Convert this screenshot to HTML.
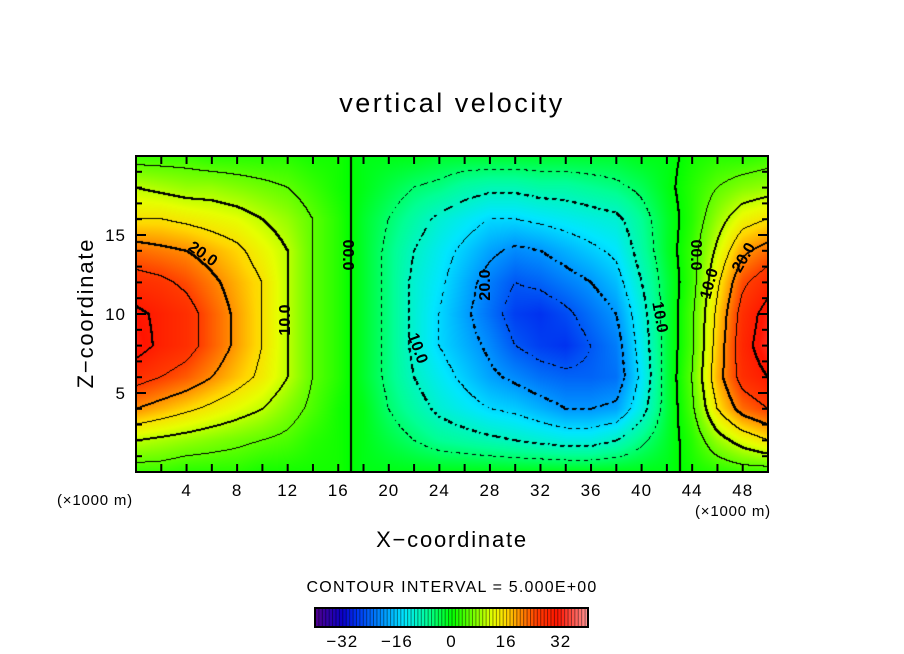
<!DOCTYPE html>
<html><head><meta charset="utf-8">
<style>
html,body{margin:0;padding:0;background:#fff;}
#wrap{position:relative;width:904px;height:654px;overflow:hidden;font-family:"Liberation Sans",sans-serif;}
canvas{position:absolute;}
svg{position:absolute;left:0;top:0;}
</style></head>
<body>
<div id="wrap">
<canvas id="field" width="632" height="316" style="left:136px;top:156px"></canvas>
<svg id="ov" width="904" height="654">
<text x="452" y="112" text-anchor="middle" font-size="27" letter-spacing="2.5" fill="#000">vertical velocity</text>
<text x="452" y="547" text-anchor="middle" font-size="22" letter-spacing="1.8" fill="#000">X−coordinate</text>
<text transform="translate(93,313) rotate(-90)" text-anchor="middle" font-size="22" letter-spacing="1.8" fill="#000">Z−coordinate</text>
<text x="95" y="505" text-anchor="middle" font-size="15" letter-spacing="0.8" fill="#000">(×1000 m)</text>
<text x="733" y="516" text-anchor="middle" font-size="15" letter-spacing="0.8" fill="#000">(×1000 m)</text>
<text x="452" y="592" text-anchor="middle" font-size="16" letter-spacing="1.2" fill="#000">CONTOUR INTERVAL = 5.000E+00</text>
<g id="axes"></g>
<g id="cbar"></g>
<g font-size="16" font-weight="bold" fill="#000">
<text transform="translate(200,258) rotate(35)" text-anchor="middle">20.0</text>
<text transform="translate(290,320) rotate(-90)" text-anchor="middle">10.0</text>
<text transform="translate(343,255) rotate(90)" text-anchor="middle">00.0</text>
<text transform="translate(413,350) rotate(70)" text-anchor="middle">10.0</text>
<text transform="translate(490,285) rotate(-90)" text-anchor="middle">20.0</text>
<text transform="translate(655,318) rotate(80)" text-anchor="middle">10.0</text>
<text transform="translate(691,255) rotate(90)" text-anchor="middle">00.0</text>
<text transform="translate(714,285) rotate(-75)" text-anchor="middle">10.0</text>
<text transform="translate(748,260) rotate(-60)" text-anchor="middle">20.0</text>
</g>
</svg>
</div>
<script>
// data: vertical velocity sampled every 2 km in x (columns) and z (rows z=0..20)
const xCoords = [0,2,4,6,8,10,12,14,16,18,20,22,24,26,28,30,32,34,36,38,40,42,44,46,48,50];
const zCoords = [0,2,4,6,8,10,12,14,16,18,20];
const wColumns = [
 [3,10,20,27,32,31,27,22,15,10,3],
 [3,9,18,25,29,29,26,21,15,9,3],
 [2,8,16,23,27,27,24,20,14,8,3],
 [2,7,14,20,23,23,21,18,13,8,2],
 [2,6,12,17,19,19,18,16,12,7,2],
 [1,5,10,14,15,15,15,13,10,6,2],
 [1,4,7,10,10,10,10,10,8,5,2],
 [1,2,4,5,5,5,5,5,5,3,1],
 [1,1,1,2,2,2,2,2,2,1,1],
 [-1,-1,-1,-2,-2,-2,-2,-2,-2,-1,-1],
 [-1,-3,-5,-6,-6,-6,-6,-6,-5,-3,-1],
 [-1,-5,-8,-10,-11,-11,-11,-10,-8,-5,-1],
 [-1,-7,-11,-13,-15,-15,-14,-13,-11,-6,-2],
 [-1,-8,-13,-16,-18,-19,-18,-16,-13,-8,-2],
 [-1,-9,-15,-19,-21,-23,-22,-19,-15,-9,-2],
 [-1,-10,-16,-21,-25,-27,-25,-21,-15,-9,-2],
 [-1,-11,-18,-23,-27,-28,-24,-20,-14,-8,-2],
 [-1,-12,-20,-24,-28,-26,-22,-18,-13,-8,-2],
 [-1,-12,-20,-24,-25,-23,-20,-16,-12,-7,-2],
 [-1,-10,-19,-23,-22,-20,-17,-14,-11,-6,-2],
 [-1,-6,-12,-14,-13,-12,-10,-8,-7,-4,-1],
 [-1,-2,-3,-3,-3,-3,-3,-2,-2,-1,-1],
 [1,2,4,5,4,4,3,3,2,2,1],
 [2,8,15,18,17,16,14,11,8,5,2],
 [3,12,22,27,28,27,24,19,13,7,2],
 [3,15,25,30,33,32,28,22,15,8,3]
];
const xTickLabels = [4,8,12,16,20,24,28,32,36,40,44,48];
const zTickLabels = [5,10,15];
const cbarTickLabels = [-32,-16,0,16,32];

const X0=136,X1=768,Y0=156,Y1=472, XMAX=50, ZMAX=20;
const sx = x => X0 + (x/XMAX)*(X1-X0);
const sz = z => Y1 - (z/ZMAX)*(Y1-Y0);

const stops=[[-40,[80,0,140]],[-32,[10,0,200]],[-28,[0,50,240]],[-20,[0,150,255]],[-14,[0,230,255]],[-7,[0,255,150]],[0,[0,255,0]],[7,[130,255,0]],[12,[230,255,0]],[16,[255,215,0]],[20,[255,140,0]],[25,[255,60,0]],[31,[255,20,0]],[40,[255,150,150]]];
function cmap(v){
  if(v<=stops[0][0]) return stops[0][1];
  for(let i=1;i<stops.length;i++){
    if(v<=stops[i][0]){const a=stops[i-1],b=stops[i],t=(v-a[0])/(b[0]-a[0]);
      return [0,1,2].map(k=>Math.round(a[1][k]+(b[1][k]-a[1][k])*t));}
  }
  return stops[stops.length-1][1];
}
function sample(x,z){
  const dx=xCoords[1]-xCoords[0], dz=zCoords[1]-zCoords[0];
  let gi=Math.min(Math.max(x/dx,0),xCoords.length-1.0001), gj=Math.min(Math.max(z/dz,0),zCoords.length-1.0001);
  const i=Math.floor(gi), j=Math.floor(gj), fi=gi-i, fj=gj-j;
  const a=wColumns[i][j], b=wColumns[i+1][j], c=wColumns[i][j+1], d=wColumns[i+1][j+1];
  return a*(1-fi)*(1-fj)+b*fi*(1-fj)+c*(1-fi)*fj+d*fi*fj;
}
const cv=document.getElementById('field'), ctx=cv.getContext('2d');
const W=cv.width,H=cv.height, img=ctx.createImageData(W,H);
const vals=new Float32Array(W*H);
for(let py=0;py<H;py++)for(let px=0;px<W;px++){
  vals[py*W+px]=sample((px+0.5)/W*XMAX,(H-py-0.5)/H*ZMAX);
}
const mark=new Uint8Array(W*H);
function setM(px,py){if(px>=0&&py>=0&&px<W&&py<H)mark[py*W+px]=1;}
for(let py=0;py<H;py++)for(let px=0;px<W;px++){
  const k=Math.floor(vals[py*W+px]/5);
  const nb=[[1,0],[0,1]];
  for(const [ox,oy] of nb){
    const qx=px+ox,qy=py+oy; if(qx>=W||qy>=H) continue;
    const k2=Math.floor(vals[qy*W+qx]/5);
    if(k2!==k){
      const L=5*Math.max(k,k2);
      if(L<0 && (((px>>2)^(py>>2))&1)) continue;
      setM(px,py);
      if(L%10===0){setM(px+1,py);setM(px,py+1);}
    }
  }
}
for(let p=0;p<W*H;p++){
  const c=mark[p]?[0,0,0]:cmap(vals[p]);
  img.data[p*4]=c[0];img.data[p*4+1]=c[1];img.data[p*4+2]=c[2];img.data[p*4+3]=255;
}
ctx.putImageData(img,0,0);

const NS='http://www.w3.org/2000/svg';
const axes=document.getElementById('axes');
function mk(tag,attrs,parent){const e=document.createElementNS(NS,tag);for(const k in attrs)e.setAttribute(k,attrs[k]);parent.appendChild(e);return e;}
const frame=mk('rect',{x:X0,y:Y0,width:X1-X0,height:Y1-Y0,fill:'none',stroke:'#000','stroke-width':2},axes);


for(let x=2;x<XMAX;x+=2){
  const t1=mk('line',{x1:sx(x),x2:sx(x),y1:Y1,y2:Y1-8,stroke:'#000','stroke-width':2},axes);
  
  
  const t2=mk('line',{x1:sx(x),x2:sx(x),y1:Y0,y2:Y0+8,stroke:'#000','stroke-width':2},axes);
  
  
}
for(let z=1;z<ZMAX;z+=1){
  const len=(z%5===0)?10:6;
  const t1=mk('line',{x1:X0,x2:X0+len,y1:sz(z),y2:sz(z),stroke:'#000','stroke-width':2},axes);
  
  
  const t2=mk('line',{x1:X1,x2:X1-len,y1:sz(z),y2:sz(z),stroke:'#000','stroke-width':2},axes);
  
  
}
xTickLabels.forEach(v=>{
  const t=mk('text',{x:sx(v),y:496,'text-anchor':'middle','font-size':17,'letter-spacing':1,fill:'#000'},axes);
  t.textContent=v;
  
  
});
zTickLabels.forEach(v=>{
  const t=mk('text',{x:126,y:sz(v)+6,'text-anchor':'end','font-size':17,'letter-spacing':1,fill:'#000'},axes);
  t.textContent=v;
  
  
});
// colorbar
const cb=document.getElementById('cbar');
const CB0=315,CB1=588,CBY=608,CBH=19,CMIN=-40,CMAX=40;
const cbx=v=>CB0+(v-CMIN)/(CMAX-CMIN)*(CB1-CB0);
for(let v=CMIN;v<CMAX;v+=1){
  const c=cmap(v+0.5);
  const r=mk('rect',{x:cbx(v),y:CBY,width:cbx(v+1)-cbx(v)+0.3,height:CBH,fill:`rgb(${c[0]},${c[1]},${c[2]})`},cb);
  
  
  const l=mk('line',{x1:cbx(v)+0.5,x2:cbx(v)+0.5,y1:CBY,y2:CBY+CBH,stroke:'rgba(0,0,0,0.45)','stroke-width':1},cb);
  
  
}
const cbf=mk('rect',{x:CB0,y:CBY,width:CB1-CB0,height:CBH,fill:'none',stroke:'#000','stroke-width':2},cb);


cbarTickLabels.forEach(v=>{
  const t=mk('text',{x:cbx(v),y:647,'text-anchor':'middle','font-size':17,'letter-spacing':1,fill:'#000'},cb);
  t.textContent=(v<0?'−'+(-v):v);
  
  
});
</script>
</body></html>
